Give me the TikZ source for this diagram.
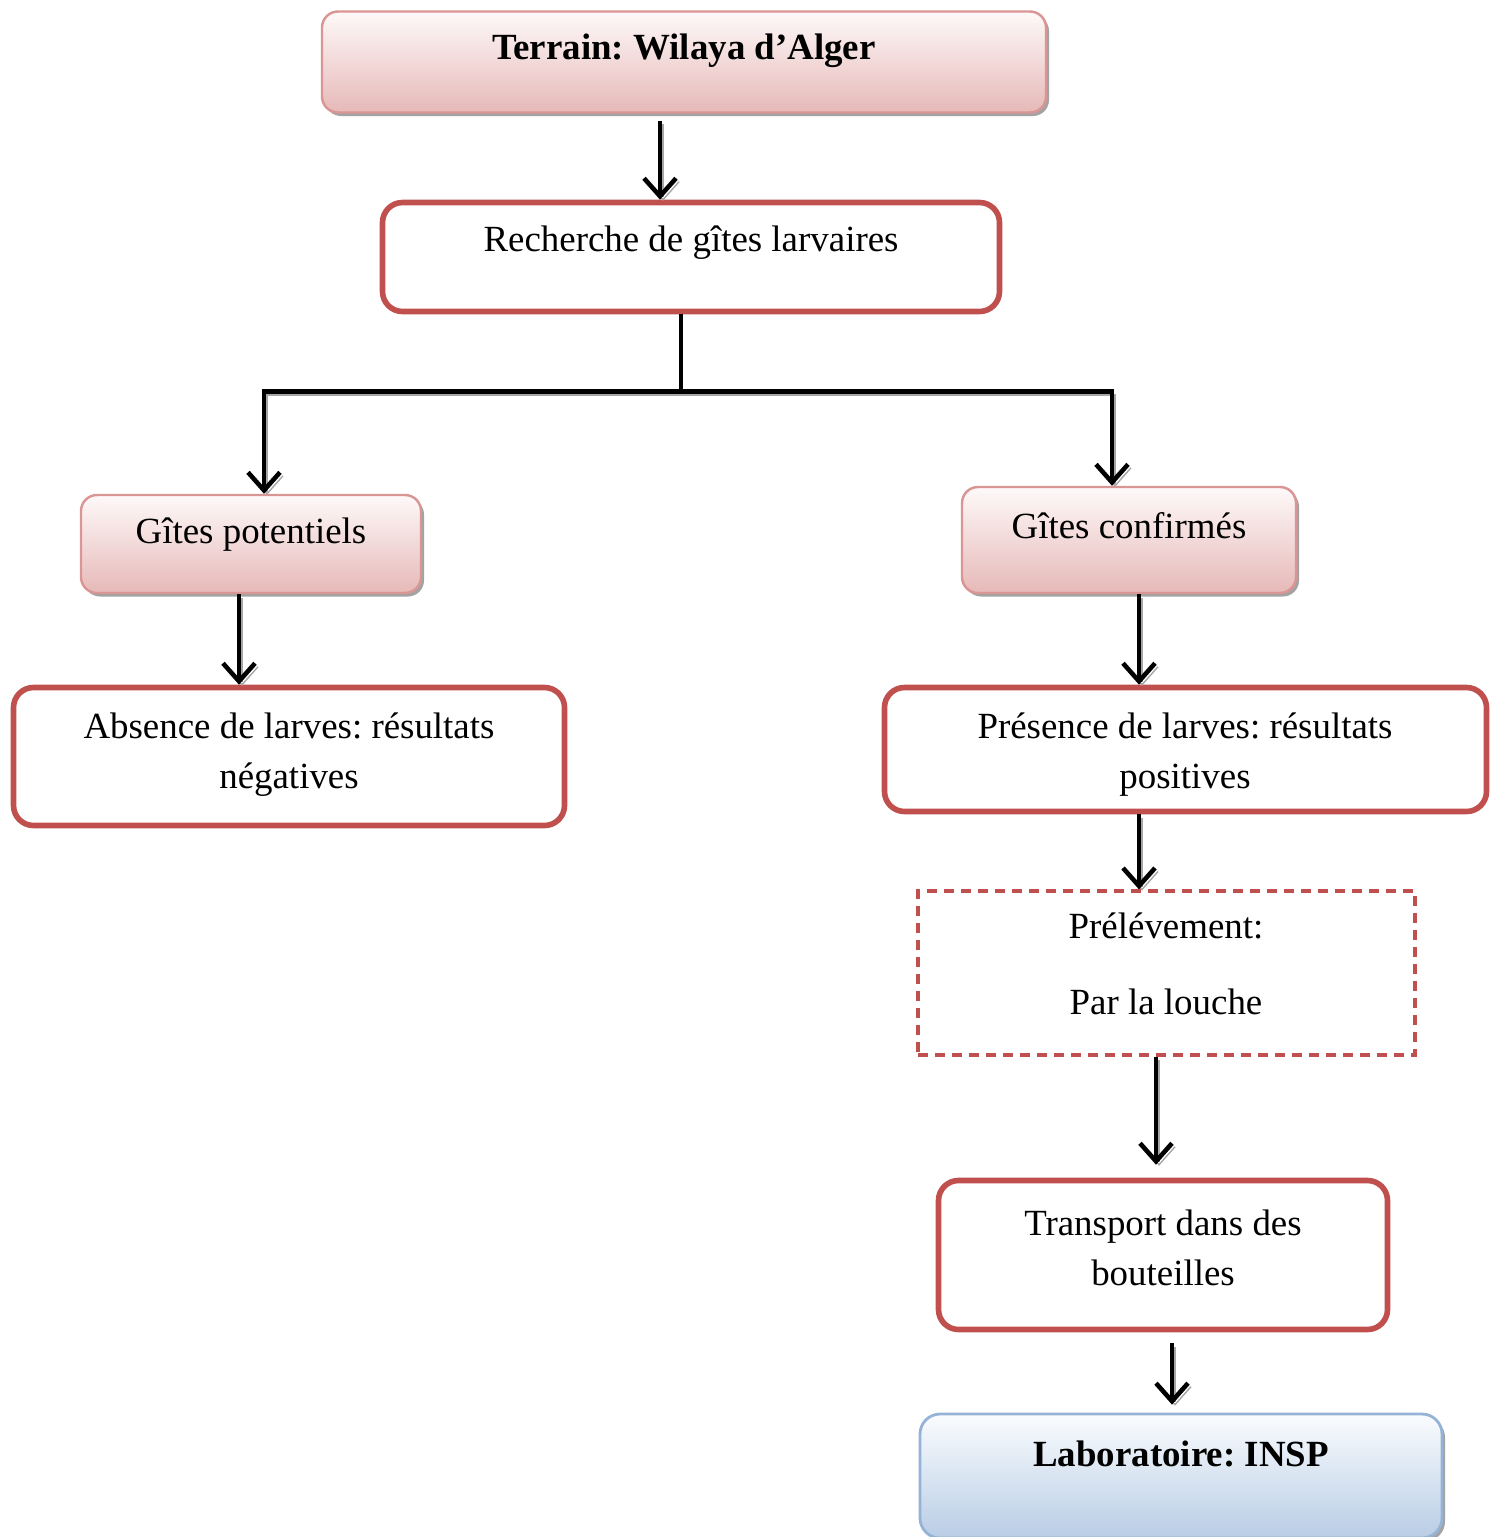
\documentclass[tikz,border=0pt]{standalone}
\usepackage{fontspec}
\setmainfont{Liberation Serif}
\frenchspacing
\usetikzlibrary{arrows.meta,shadows}
\definecolor{rougecadre}{HTML}{C0504D}
\definecolor{rosebord}{HTML}{D99694}
\definecolor{rosehaut}{HTML}{FEF9F9}
\definecolor{rosebas}{HTML}{E6B9B8}
\definecolor{bleubord}{HTML}{95B3D7}
\definecolor{bleuhaut}{HTML}{FAFCFE}
\definecolor{bleubas}{HTML}{B9CDE5}
\tikzset{
	cadrerose/.style={draw=rosebord,line width=.7pt,rounded corners=1.6mm,top color=rosehaut,bottom color=rosebas,
		drop shadow={shadow xshift=.3mm,shadow yshift=-.35mm,fill=black!45,opacity=.8}},
	cadrebleu/.style={draw=bleubord,line width=.8pt,rounded corners=2mm,top color=bleuhaut,bottom color=bleubas,
		drop shadow={shadow xshift=.3mm,shadow yshift=-.35mm,fill=black!45,opacity=.8}},
	cadrerouge/.style={draw=rougecadre,line width=1.6pt,rounded corners=2mm,fill=white},
	cadretirets/.style={draw=rougecadre,line width=.9pt,dash pattern=on 1mm off .7mm},
	texte/.style={font=\fontsize{10.5}{14.2}\selectfont,align=center,inner sep=0pt},
	fleche/.style={line width=1.3pt,-{Straight Barb[length=1.8mm,width=3.2mm,line width=1.3pt]},
		preaction={draw=black!35,transform canvas={shift={(.3mm,-.35mm)}}}},
	ligne/.style={line width=1.3pt,preaction={draw=black!35,transform canvas={shift={(0,-.4mm)}}}}
}
\begin{document}
\begin{tikzpicture}[x=.1mm,y=-.1mm]
	\useasboundingbox (0,0) rectangle (1499,1537);
	
	% les cadres
	\node[cadrerose,minimum width=72.4mm,minimum height=10.1mm] (terrain) at (684,62) {};
	\node[cadrerouge,minimum width=61.7mm,minimum height=10.9mm] (recherche) at (691,257) {};
	\node[cadrerose,minimum width=34mm,minimum height=9.8mm] (potentiels) at (251,544) {};
	\node[cadrerose,minimum width=33.4mm,minimum height=10.6mm] (confirmes) at (1129,540) {};
	\node[cadrerouge,minimum width=55.1mm,minimum height=13.8mm] (absence) at (289,756.5) {};
	\node[cadrerouge,minimum width=60.2mm,minimum height=12.4mm] (presence) at (1185.5,749.5) {};
	\node[cadretirets,minimum width=49.7mm,minimum height=16.4mm] (prelevement) at (1166.5,973) {};
	\node[cadrerouge,minimum width=44.9mm,minimum height=14.9mm] (transport) at (1163,1255) {};
	\node[cadrebleu,minimum width=52.2mm,minimum height=12.4mm] (labo) at (1181,1476) {};
	
	% les textes
	\node[texte,font=\fontsize{10.5}{14.2}\selectfont\bfseries] (t-terrain) at (684,51) {Terrain: Wilaya d’Alger};
	\node[texte] (t-recherche) at (691,243) {Recherche de gîtes larvaires};
	\node[texte] (t-potentiels) at (251,535) {Gîtes potentiels};
	\node[texte] (t-confirmes) at (1129,526) {Gîtes confirmés};
	\node[texte] (t-absence) at (289,755) {Absence de larves: résultats\\négatives};
	\node[texte] (t-presence) at (1185,755) {Présence de larves: résultats\\positives};
	\node[texte] (t-prelevement) at (1166,964) {Prélévement:\\[2.6mm]Par la louche};
	\node[texte] (t-transport) at (1163,1248) {Transport dans des\\bouteilles};
	\node[texte,font=\fontsize{10.5}{14.2}\selectfont\bfseries] (t-labo) at (1181,1454) {Laboratoire: INSP};
	
	% les fleches
	\draw[fleche] ([xshift=-2.4mm]terrain.south) ++(0,-.7mm) -- ([xshift=-3.1mm]recherche.north);
	\draw[ligne] ([xshift=-1mm]recherche.south) -- ++(0,-7.7mm) coordinate (embr);
	\draw[fleche] (embr) -| ([xshift=1.3mm]potentiels.north);
	\draw[fleche] (embr) -| ([xshift=-1.7mm]confirmes.north);
	\draw[fleche] ([xshift=-1.2mm]potentiels.south) -- ([xshift=-1.2mm]potentiels.south |- absence.north);
	\draw[fleche] ([xshift=1mm]confirmes.south) -- ([xshift=1mm]confirmes.south |- presence.north);
	\draw[fleche] ([xshift=-4.65mm]presence.south) -- ([xshift=-4.65mm]presence.south |- prelevement.north);
	\draw[fleche] ([xshift=-1.05mm]prelevement.south) -- ([xshift=-1.05mm,yshift=1.3mm]prelevement.south |- transport.north);
	\draw[fleche] ([xshift=.9mm,yshift=-1.1mm]transport.south) -- ([xshift=.9mm,yshift=.8mm]transport.south |- labo.north);
\end{tikzpicture}
\end{document}
